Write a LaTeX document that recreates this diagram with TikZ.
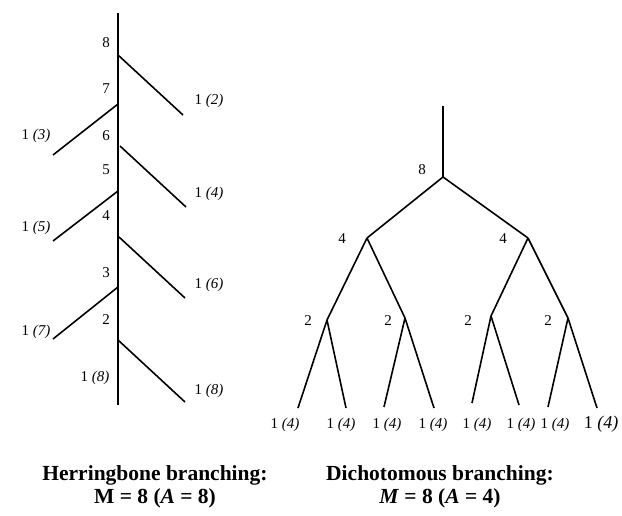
\documentclass[tikz,border=0pt]{standalone}
\usepackage{fontspec}
\setmainfont{Liberation Serif}
\tikzset{
  twig/.style={line width=1.6pt},
  num/.style={font=\fontsize{15}{17}\selectfont, inner sep=0pt},
  bignum/.style={font=\fontsize{18}{20}\selectfont, inner sep=0pt},
  caption/.style={font=\fontsize{21.5}{23}\selectfont\bfseries, align=center, inner sep=0pt}
}
\newcommand{\leafnum}[1]{1 \textit{(#1)}}

\begin{document}
\begin{tikzpicture}[x=1pt,y=-1pt]
\useasboundingbox (0,0) rectangle (622,515);

% herringbone
\coordinate (htop) at (118,13);
\coordinate (hbot) at (118,405);
\coordinate (h8) at (118,55);
\coordinate (h7) at (118,104);
\coordinate (h6) at (120,146);
\coordinate (h5) at (118,191);
\coordinate (h4) at (119,237);
\coordinate (h3) at (118,287);
\coordinate (h2) at (118,340);
\coordinate (e2) at (183,115);
\coordinate (e3) at (53,155);
\coordinate (e4) at (186,207);
\coordinate (e5) at (53,241);
\coordinate (e6) at (185,298);
\coordinate (e7) at (53,339);
\coordinate (e8) at (185,402);

\draw[twig] (htop) -- (hbot);
\draw[twig] (h8) -- (e2);
\draw[twig] (h7) -- (e3);
\draw[twig] (h6) -- (e4);
\draw[twig] (h5) -- (e5);
\draw[twig] (h4) -- (e6);
\draw[twig] (h3) -- (e7);
\draw[twig] (h2) -- (e8);

\node[num] (hn8) at (106,43) {8};
\node[num] (hn7) at (106,89) {7};
\node[num] (hn6) at (106,136) {6};
\node[num] (hn5) at (106,170) {5};
\node[num] (hn4) at (106,216) {4};
\node[num] (hn3) at (106,273) {3};
\node[num] (hn2) at (106,320) {2};
\node[num] (hn1) at (95,378) {\leafnum{8}};
\node[num] (hl2) at (209,101) {\leafnum{2}};
\node[num] (hl3) at (36,136) {\leafnum{3}};
\node[num] (hl4) at (209,194) {\leafnum{4}};
\node[num] (hl5) at (36,228) {\leafnum{5}};
\node[num] (hl6) at (209,285) {\leafnum{6}};
\node[num] (hl7) at (36,332) {\leafnum{7}};
\node[num] (hl8) at (209,391) {\leafnum{8}};

%-------------------------------------
% dichotomous
\coordinate (dtop) at (443,106);
\coordinate (d8) at (443,177);
\coordinate (d4a) at (367,238);
\coordinate (d4b) at (528,238);
\coordinate (d2a) at (327,320);
\coordinate (d2b) at (405,318);
\coordinate (d2c) at (491,316);
\coordinate (d2d) at (568,318);
\coordinate (la) at (298,408);
\coordinate (lb) at (346,408);
\coordinate (lc) at (384,407);
\coordinate (ld) at (434,408);
\coordinate (le) at (472,403);
\coordinate (lf) at (519,405);
\coordinate (lg) at (548,407);
\coordinate (lh) at (597,408);

\draw[twig] (dtop) -- (d8);
\draw[twig] (d8) -- (d4a);
\draw[twig] (d8) -- (d4b);
\draw[twig] (d4a) -- (d2a);
\draw[twig] (d4a) -- (d2b);
\draw[twig] (d4b) -- (d2c);
\draw[twig] (d4b) -- (d2d);
\draw[twig] (d2a) -- (la);
\draw[twig] (d2a) -- (lb);
\draw[twig] (d2b) -- (lc);
\draw[twig] (d2b) -- (ld);
\draw[twig] (d2c) -- (le);
\draw[twig] (d2c) -- (lf);
\draw[twig] (d2d) -- (lg);
\draw[twig] (d2d) -- (lh);

\node[num] (dn8) at (422,170) {8};
\node[num] (dn4a) at (342,239) {4};
\node[num] (dn4b) at (503,239) {4};
\node[num] (dn2a) at (308,321) {2};
\node[num] (dn2b) at (388,321) {2};
\node[num] (dn2c) at (468,321) {2};
\node[num] (dn2d) at (548,321) {2};
\node[num] (dla) at (285,425) {\leafnum{4}};
\node[num] (dlb) at (341,425) {\leafnum{4}};
\node[num] (dlc) at (387,425) {\leafnum{4}};
\node[num] (dld) at (433,425) {\leafnum{4}};
\node[num] (dle) at (477,425) {\leafnum{4}};
\node[num] (dlf) at (521,425) {\leafnum{4}};
\node[num] (dlg) at (555,425) {\leafnum{4}};
\node[bignum] (dlh) at (601,424) {\leafnum{4}};

%-------------------------------------
\node[caption] (hcap) at (155,487) {Herringbone branching:\\M = 8 (\textit{A} = 8)};
\node[caption] (dcap) at (440,487) {Dichotomous branching:\\\textit{M} = 8 (\textit{A} = 4)};

\end{tikzpicture}
\end{document}
